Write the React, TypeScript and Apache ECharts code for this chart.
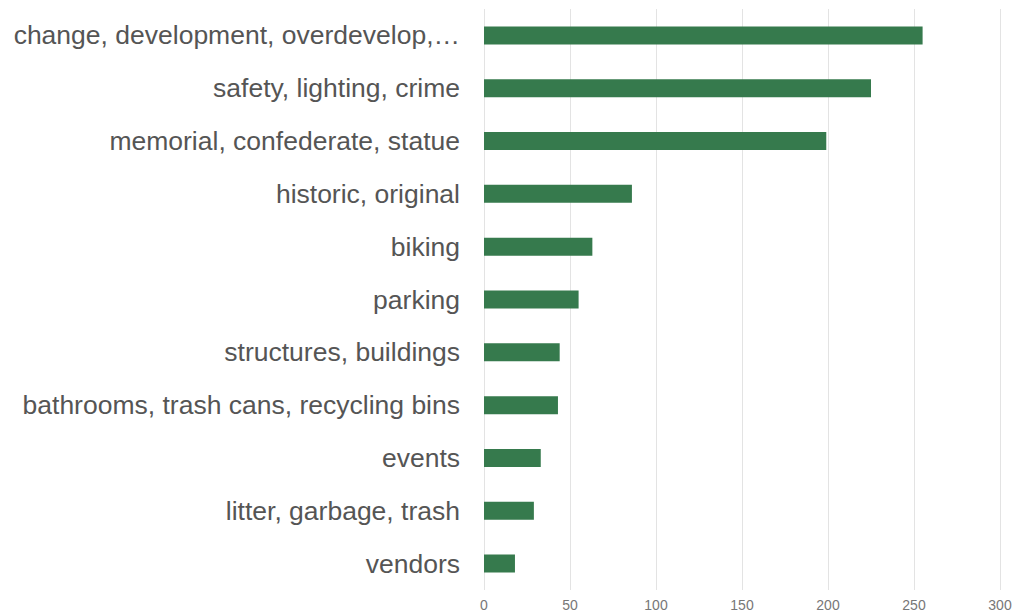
import React, { useEffect, useRef } from "react";
import * as echarts from "echarts";

const categories = [
  "change, development, overdevelop,…",
  "safety, lighting, crime",
  "memorial, confederate, statue",
  "historic, original",
  "biking",
  "parking",
  "structures, buildings",
  "bathrooms, trash cans, recycling bins",
  "events",
  "litter, garbage, trash",
  "vendors",
];

const values = [255, 225, 199, 86, 63, 55, 44, 43, 33, 29, 18];

const xTicks = [0, 50, 100, 150, 200, 250, 300];

const FONT = "'Liberation Sans', Arial, Helvetica, sans-serif";

export default function App() {
  const ref = useRef<HTMLDivElement>(null);
  useEffect(() => {
    document.body.style.margin = "0";
    const chart = echarts.init(ref.current!, null, { renderer: "svg" });
    chart.setOption({
      animation: false,
      grid: { left: 484, right: 15, top: 9, bottom: 23, containLabel: false },
      xAxis: {
        type: "value",
        min: xTicks[0],
        max: xTicks[xTicks.length - 1],
        interval: 50,
        axisLine: { show: false },
        axisTick: { show: false },
        axisLabel: {
          color: "#777",
          fontSize: 14,
          fontFamily: FONT,
          margin: 8,
        },
        splitLine: { show: true, lineStyle: { color: "#e3e3e3", width: 1 } },
      },
      yAxis: {
        type: "category",
        data: categories,
        inverse: true,
        axisLine: { show: false },
        axisTick: { show: false },
        axisLabel: {
          color: "#555",
          fontSize: 26.5,
          fontFamily: FONT,
          margin: 24,
        },
        splitLine: { show: false },
      },
      series: [
        {
          type: "bar",
          data: values,
          barWidth: 18,
          itemStyle: { color: "#367a4d" },
        },
      ],
    });
    return () => chart.dispose();
  }, []);
  return <div ref={ref} style={{ width: 1015, height: 613 }} />;
}
